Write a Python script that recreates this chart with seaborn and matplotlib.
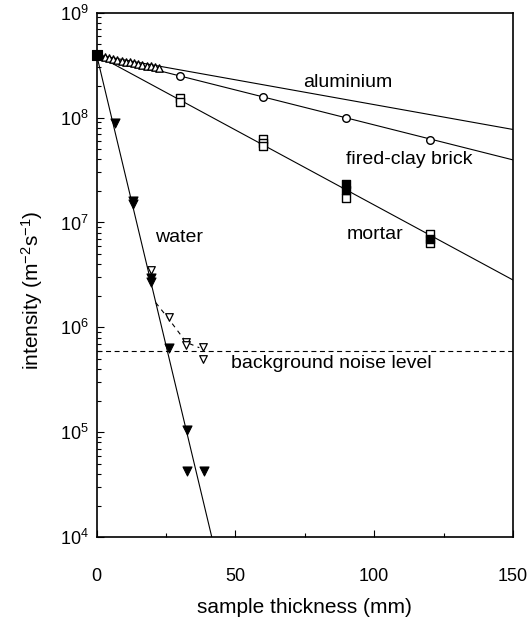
import matplotlib
matplotlib.use("Agg")
import matplotlib.pyplot as plt
import matplotlib.ticker as mticker
import numpy as np
import pandas as pd
import seaborn as sns

# ---------------- data ----------------
# aluminium (open up-triangles, dense near the origin)
al_x = [0, 1.5, 3, 4.5, 6, 7.5, 9, 10.5, 12, 13.5, 15, 16.5, 18, 19.5, 21, 22.5]
al_y = [3.9e8, 3.82e8, 3.75e8, 3.68e8, 3.6e8, 3.55e8, 3.48e8, 3.42e8,
        3.37e8, 3.3e8, 3.25e8, 3.18e8, 3.12e8, 3.07e8, 3.02e8, 2.97e8]
al_fit_x = [0, 150]
al_fit_y = [3.95e8, 7.7e7]

# fired-clay brick (open circles)
brick_x = [30, 60, 90, 120]
brick_y = [2.5e8, 1.58e8, 1.0e8, 6.1e7]
brick_fit_x = [0, 150]
brick_fit_y = [3.95e8, 3.95e7]

# mortar (squares, some filled)
mortar_open_x = [30, 30, 60, 60, 60, 90, 120, 120]
mortar_open_y = [1.53e8, 1.41e8, 6.2e7, 5.7e7, 5.3e7, 1.72e7, 7.8e6, 6.4e6]
mortar_fill_x = [90, 90, 120]
mortar_fill_y = [2.35e7, 2.05e7, 7.0e6]
mortar_fit_x = [0, 150]
mortar_fit_y = [3.95e8, 2.83e6]

# water (filled down-triangles) and background-limited points (open)
water_fill_x = [6.5, 13, 13, 19.5, 19.5, 26, 32.5, 32.5, 38.7]
water_fill_y = [8.9e7, 1.6e7, 1.5e7, 2.95e6, 2.7e6, 6.3e5, 1.05e5, 4.3e4, 4.3e4]
water_open_x = [19.5, 26, 32.3, 32.3, 38.5, 38.5]
water_open_y = [3.5e6, 1.26e6, 7.3e5, 6.8e5, 6.55e5, 5.0e5]
water_fit_x = [0, 41.5]
water_fit_y = [3.95e8, 1.0e4]
water_bg_x = [21.3, 26, 32.3, 37]
water_bg_y = [1.72e6, 1.2e6, 7.2e5, 6.4e5]

# origin point (all series coincide)
origin_x = [0]
origin_y = [3.95e8]

# background noise level
noise_x = [0, 150]
noise_y = [6.0e5, 6.0e5]

x_ticks = [0, 50, 100, 150]
x_minor = [25, 75, 125]
y_ticks = [1e4, 1e5, 1e6, 1e7, 1e8, 1e9]
y_ticklabels = ["10$^4$", "10$^5$", "10$^6$", "10$^7$", "10$^8$", "10$^9$"]

# ---------------- style ----------------
sns.set_theme(style="ticks")
plt.rcParams["font.family"] = ["Liberation Sans", "DejaVu Sans"]
plt.rcParams["mathtext.fontset"] = "custom"
plt.rcParams["mathtext.rm"] = "Liberation Sans"
plt.rcParams["mathtext.it"] = "Liberation Sans"
plt.rcParams["mathtext.bf"] = "Liberation Sans"
plt.rcParams["mathtext.default"] = "regular"

fig = plt.figure(figsize=(5.31, 6.32), dpi=100)
ax = fig.add_axes([0.182, 0.150, 0.784, 0.830])
ax.set_facecolor("white")

lw = 0.8
# fitted lines
for fx, fy in [(al_fit_x, al_fit_y), (brick_fit_x, brick_fit_y),
               (mortar_fit_x, mortar_fit_y), (water_fit_x, water_fit_y)]:
    sns.lineplot(x=fx, y=fy, ax=ax, color="black", lw=lw, estimator=None,
                 sort=False, zorder=2)
# background noise
sns.lineplot(x=noise_x, y=noise_y, ax=ax, color="black", lw=lw,
             estimator=None, sort=False, zorder=2, dashes=False)
ax.lines[-1].set_dashes((4.5, 3.2))
# water background-limited curve
sns.lineplot(x=water_bg_x, y=water_bg_y, ax=ax, color="black", lw=lw,
             estimator=None, sort=False, zorder=2)
ax.lines[-1].set_dashes((4, 4))

# markers
sns.scatterplot(x=al_x, y=al_y, ax=ax, marker="^", s=28, facecolor="white",
                edgecolor="black", linewidth=1.0, zorder=3)
sns.scatterplot(x=brick_x, y=brick_y, ax=ax, marker="o", s=30, facecolor="white",
                edgecolor="black", linewidth=1.0, zorder=3)
sns.scatterplot(x=mortar_open_x, y=mortar_open_y, ax=ax, marker="s", s=30,
                facecolor="white", edgecolor="black", linewidth=1.0, zorder=3)
sns.scatterplot(x=mortar_fill_x, y=mortar_fill_y, ax=ax, marker="s", s=30,
                facecolor="black", edgecolor="black", linewidth=1.0, zorder=4)
sns.scatterplot(x=water_open_x, y=water_open_y, ax=ax, marker="v", s=30,
                facecolor="white", edgecolor="black", linewidth=0.9, zorder=3)
sns.scatterplot(x=water_fill_x, y=water_fill_y, ax=ax, marker="v", s=42,
                facecolor="black", edgecolor="black", linewidth=0.8, zorder=4)
sns.scatterplot(x=origin_x, y=origin_y, ax=ax, marker="s", s=45,
                facecolor="black", edgecolor="black", linewidth=0.8, zorder=5,
                clip_on=False)

# axes
ax.set_yscale("log")
ax.set_xlim(0, 150)
ax.set_ylim(1e4, 1e9)
ax.set_xticks(x_ticks)
ax.set_xticklabels([str(v) for v in x_ticks])
ax.xaxis.set_minor_locator(mticker.FixedLocator(x_minor))
ax.set_yticks(y_ticks)
ax.set_yticklabels(y_ticklabels)
ax.yaxis.set_minor_locator(mticker.LogLocator(base=10, subs=np.arange(2, 10)))
ax.yaxis.set_minor_formatter(mticker.NullFormatter())

ax.tick_params(axis="both", which="both", direction="in", top=False, right=False,
               color="black", labelcolor="black")
ax.tick_params(axis="both", which="major", length=5, width=0.8, labelsize=13)
ax.tick_params(axis="both", which="minor", length=3, width=0.8)
ax.tick_params(axis="x", which="major", pad=22)
ax.tick_params(axis="y", which="major", pad=6)

for sp in ax.spines.values():
    sp.set_visible(True)
    sp.set_color("black")
    sp.set_linewidth(1.2)

ax.set_xlabel("sample thickness (mm)", fontsize=15, color="black")
ax.set_ylabel("intensity (m$^{-2}$s$^{-1}$)", fontsize=15, color="black")
ax.xaxis.set_label_coords(0.5, -0.115)
ax.yaxis.set_label_coords(-0.125, 0.47)

# annotations
txt_kw = dict(fontsize=14, color="black", ha="center", va="center")
ax.text(90.4, 2.14e8, "aluminium", **txt_kw)
ax.text(112.7, 4.0e7, "fired-clay brick", **txt_kw)
ax.text(100.3, 7.76e6, "mortar", **txt_kw)
ax.text(29.7, 7.2e6, "water", **txt_kw)
ax.text(84.6, 4.5e5, "background noise level", **txt_kw)

fig.savefig("out.png", dpi=100, facecolor="white")
